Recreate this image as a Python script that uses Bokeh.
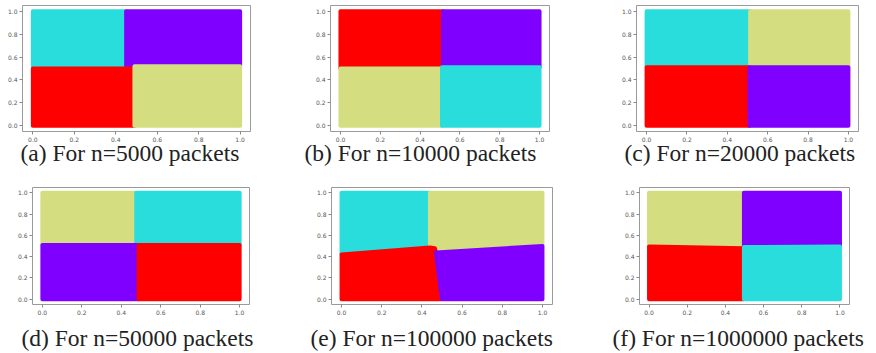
from bokeh.plotting import figure
from bokeh.layouts import column, row
from bokeh.models import FixedTicker, PrintfTickFormatter, Range1d
from bokeh.core.properties import value
from bokeh.embed import file_html
from bokeh.resources import INLINE

# ---- data ----
CYAN = "#2adddd"
PURPLE = "#8000ff"
OLIVE = "#d4dd80"
RED = "#ff0000"

top_captions = ["(a) For n=5000 packets", "(b) For n=10000 packets", "(c) For n=20000 packets"]
bottom_captions = ["(d) For n=50000 packets", "(e) For n=100000 packets", "(f) For n=1000000 packets"]
tick_values = [0.0, 0.2, 0.4, 0.6, 0.8, 1.0]

# cluster region outlines, per panel
a_xs = [[0, 0.45, 0.45, 0], [0.45, 1, 1, 0.45], [0, 0.49, 0.49, 0], [0.49, 1, 1, 0.49]]
a_ys = [[0.5, 0.5, 1, 1], [0.52, 0.52, 1, 1], [0, 0, 0.5, 0.5], [0, 0, 0.52, 0.52]]
a_colors = [CYAN, PURPLE, RED, OLIVE]

b_xs = [[0, 0.515, 0.515, 0], [0.515, 1, 1, 0.515], [0, 0.51, 0.51, 0], [0.51, 1, 1, 0.51]]
b_ys = [[0.5, 0.5, 1, 1], [0.51, 0.51, 1, 1], [0, 0, 0.5, 0.5], [0, 0, 0.51, 0.51]]
b_colors = [RED, PURPLE, OLIVE, CYAN]

c_xs = [[0, 0.513, 0.513, 0], [0.513, 1, 1, 0.513], [0, 0.51, 0.51, 0], [0.51, 1, 1, 0.51]]
c_ys = [[0.51, 0.51, 1, 1], [0.51, 0.51, 1, 1], [0, 0, 0.51, 0.51], [0, 0, 0.51, 0.51]]
c_colors = [CYAN, OLIVE, RED, PURPLE]

d_xs = [[0, 0.476, 0.476, 0], [0.476, 1, 1, 0.476], [0, 0.488, 0.488, 0], [0.488, 1, 1, 0.488]]
d_ys = [[0.51, 0.51, 1, 1], [0.51, 0.51, 1, 1], [0, 0, 0.51, 0.51], [0, 0, 0.51, 0.51]]
d_colors = [OLIVE, CYAN, PURPLE, RED]

e_xs = [[0, 0.44, 0.44, 0], [0.44, 0.44, 0.465, 0.47, 1, 1],
        [0, 0.5, 0.47, 0.465, 0.44, 0], [0.5, 1, 1, 0.47]]
e_ys = [[0.42, 0.485, 1, 1], [1, 0.485, 0.48, 0.44, 0.5, 1],
        [0, 0, 0.44, 0.48, 0.485, 0.42], [0, 0, 0.5, 0.44]]
e_colors = [CYAN, OLIVE, RED, PURPLE]

f_xs = [[0, 0.497, 0.497, 0], [0.497, 1, 1, 0.497], [0, 0.497, 0.497, 0], [0.497, 1, 1, 0.497]]
f_ys = [[0.495, 0.48, 1, 1], [0.49, 0.495, 1, 1], [0, 0, 0.48, 0.495], [0, 0, 0.495, 0.49]]
f_colors = [OLIVE, PURPLE, RED, CYAN]

panels = [(a_xs, a_ys, a_colors), (b_xs, b_ys, b_colors), (c_xs, c_ys, c_colors),
          (d_xs, d_ys, d_colors), (e_xs, e_ys, e_colors), (f_xs, f_ys, f_colors)]

# ---- layout (pixels) ----
# fig width, fig height, min border left, right, top, bottom
geom = [
    (290, 144, 22, 40, 1, 0),
    (290, 144, 40, 31, 2, 0),
    (280, 144, 56, 2, 5, 0),
    (290, 150, 32, 41, 14, 0),
    (290, 150, 41, 28, 13, 0),
    (280, 150, 59, 11, 20, 0),
]
STRIP_W = 866
STRIP_OVERLAP = 8
strip1_h, strip1_x, strip1_y = 31, [20, 304, 624], 16
strip2_h, strip2_x, strip2_y = 42, [21, 310, 612], 28
LO, HI = -0.05, 1.05
CAPTION_FONT = "Liberation Serif"
CAPTION_SIZE = "23.5px"


def make(i):
    xs, ys, cols = panels[i]
    w, h, bl, br, bt, bb = geom[i]
    p = figure(width=w, height=h, output_backend="svg", toolbar_location=None,
               x_range=Range1d(LO, HI), y_range=Range1d(LO, HI),
               min_border_left=bl, min_border_right=br, min_border_top=bt, min_border_bottom=bb)
    p.patches(xs, ys, fill_color=cols, line_color=cols, line_width=4, line_join="round")
    p.grid.visible = False
    p.outline_line_color = "#9a9a9a"
    p.outline_line_width = 1
    for ax in (p.xaxis[0], p.yaxis[0]):
        ax.ticker = FixedTicker(ticks=tick_values)
        ax.formatter = PrintfTickFormatter(format="%.1f")
        ax.axis_line_color = None
        ax.axis_label = None
        ax.axis_label_standoff = 0
        ax.major_tick_line_color = "#888888"
        ax.major_tick_out = 3
        ax.major_tick_in = 0
        ax.minor_tick_line_color = None
        ax.major_label_text_font = "DejaVu Sans"
        ax.major_label_text_font_size = "6px"
        ax.major_label_text_color = "#555555"
        ax.major_label_standoff = 2
    return p


def strip(h, xs, y, texts):
    s = figure(width=STRIP_W, height=h, output_backend="svg", toolbar_location=None,
               x_range=Range1d(0, STRIP_W), y_range=Range1d(h, 0),
               x_axis_type=None, y_axis_type=None,
               min_border_left=0, min_border_right=0, min_border_top=0, min_border_bottom=0,
               margin=(-STRIP_OVERLAP, 0, 0, 0))
    s.grid.visible = False
    s.outline_line_color = None
    s.background_fill_color = None
    s.border_fill_color = None
    s.text(x=xs, y=[y] * len(xs), text=texts, text_font=value(CAPTION_FONT),
           text_font_size=value(CAPTION_SIZE), text_color="#222222",
           text_align="left", text_baseline="middle")
    return s


figs = [make(i) for i in range(6)]
layout = column(row(*figs[:3], spacing=0),
                strip(strip1_h, strip1_x, strip1_y, top_captions),
                row(*figs[3:], spacing=0),
                strip(strip2_h, strip2_x, strip2_y, bottom_captions),
                spacing=0)

open("out.html", "w").write(file_html(layout, INLINE))
